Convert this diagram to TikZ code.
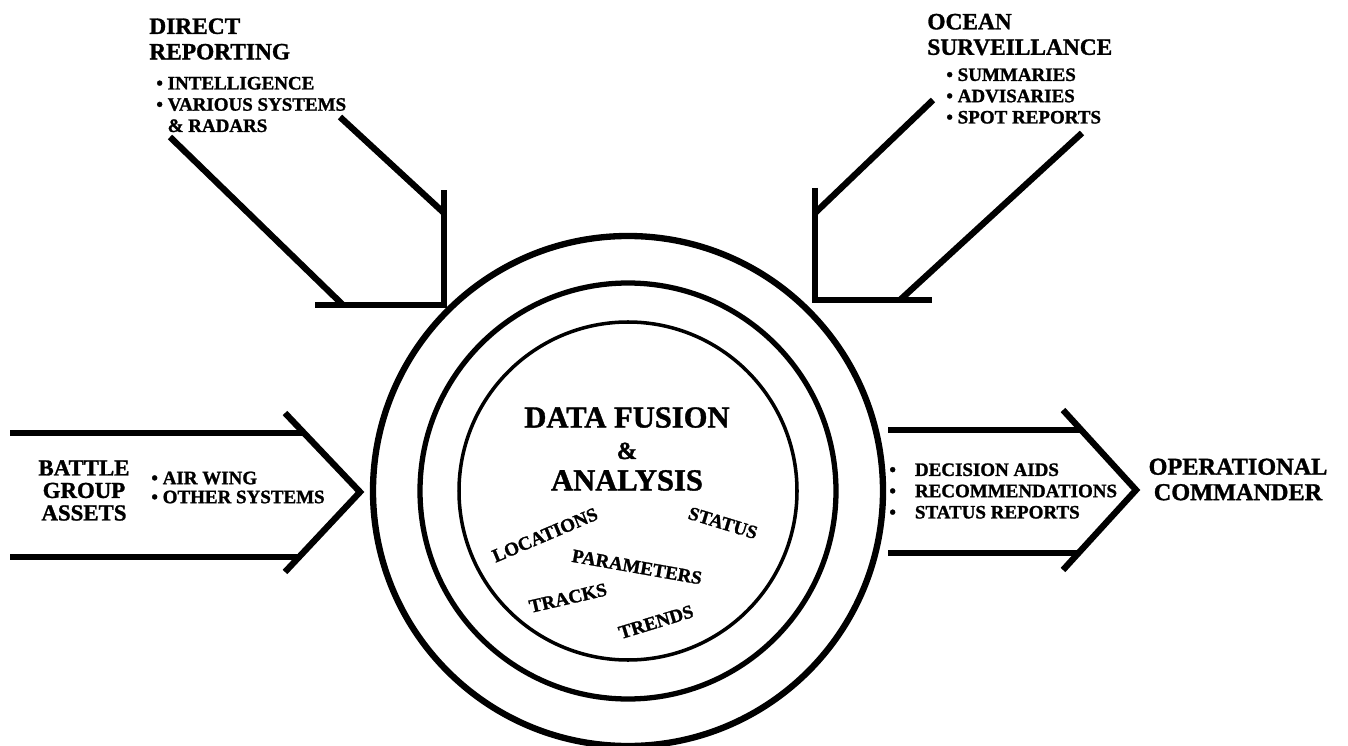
\documentclass[tikz,border=0pt]{standalone}
\usepackage{fontspec}
\setmainfont{Liberation Serif}[BoldFeatures={FakeBold=1.3}]
\tikzset{
  fus bar/.style={line width=3.6pt, line join=miter},
  fus ring/.style={line width=#1},
  fus head/.style={inner sep=0pt, font=\fontsize{13.3}{14.5}\selectfont\bfseries},
  fus item/.style={inner sep=0pt, align=left, font=\fontsize{10.8}{12.1}\selectfont\bfseries},
  fus title/.style={inner sep=0pt, align=center, font=\fontsize{17.4}{17.9}\selectfont\bfseries},
  fus word/.style={inner sep=0pt, font=\fontsize{10.8}{12}\selectfont\bfseries}
}

\begin{document}
\begin{tikzpicture}[x=0.2mm, y=-0.2mm]
\useasboundingbox (0,0) rectangle (1348,746);
\coordinate (hub) at (628,491);
\draw[fus ring=3.6pt] (hub) circle[radius=255];
\draw[fus ring=3pt] (hub) circle[radius=208];
\draw[fus ring=2pt] (hub) circle[radius=169];

\node[fus title] (fusion) at (627,449) {DATA FUSION\\{\fontsize{14}{17.9}\selectfont\&}\\ANALYSIS};
\node[fus word, rotate=23] (loc) at (545,535) {LOCATIONS};
\node[fus word, rotate=-17] (stat) at (723,523) {STATUS};
\node[fus word, rotate=-10] (par) at (637,567) {PARAMETERS};
\node[fus word, rotate=13] (trk) at (568,598) {TRACKS};
\node[fus word, rotate=17] (trd) at (656,622) {TRENDS};

% direct reporting
\node[fus head, align=left, anchor=west] (direct) at (149,39) {DIRECT\\REPORTING};
\node[fus item, anchor=west] (directlist) at (156,104.5) {\textbullet\ INTELLIGENCE\\\textbullet\ VARIOUS SYSTEMS\\\phantom{\textbullet\ }\& RADARS};
\draw[fus bar] (170,137) -- (343,305);
\draw[fus bar] (315,305) -- (444,305) -- (444,190);
\draw[fus bar] (340,117) -- (444,213);

% ocean surveillance
\node[fus head, align=left, anchor=west] (ocean) at (927,34.5) {OCEAN\\SURVEILLANCE};
\node[fus item, anchor=west] (oceanlist) at (946,96) {\textbullet\ SUMMARIES\\\textbullet\ ADVISARIES\\\textbullet\ SPOT REPORTS};
\draw[fus bar] (933,100) -- (815,213);
\draw[fus bar] (815,188) -- (815,300) -- (932,300);
\draw[fus bar] (1082,133) -- (900,300);

% battle group
\node[fus head, align=center, font=\fontsize{13}{12.8}\selectfont\bfseries] (battle) at (84,490.5) {BATTLE\\GROUP\\ASSETS};
\node[fus item, anchor=west, font=\fontsize{10.8}{10.8}\selectfont\bfseries] (battlelist) at (151,487.5) {\textbullet\ AIR WING\\\textbullet\ OTHER SYSTEMS};
\coordinate (intip) at (360,492);
\draw[fus bar] (10,433) -- (302,433);
\draw[fus bar] (285,413) -- (intip) -- (285,572);
\draw[fus bar] (10,557) -- (300,557);

% operational commander
\node[fus item, anchor=west] (outlist) at (889,491) {\textbullet\quad DECISION AIDS\\\textbullet\quad RECOMMENDATIONS\\\textbullet\quad STATUS REPORTS};
\coordinate (outtip) at (1136,490);
\draw[fus bar] (888,430) -- (1082,430);
\draw[fus bar] (1063,410) -- (outtip) -- (1063,570);
\draw[fus bar] (888,553) -- (1078,553);
\node[fus head, align=center, font=\fontsize{13.8}{14.5}\selectfont\bfseries] (cmdr) at (1238,479.5) {OPERATIONAL\\COMMANDER};
\end{tikzpicture}
\end{document}
